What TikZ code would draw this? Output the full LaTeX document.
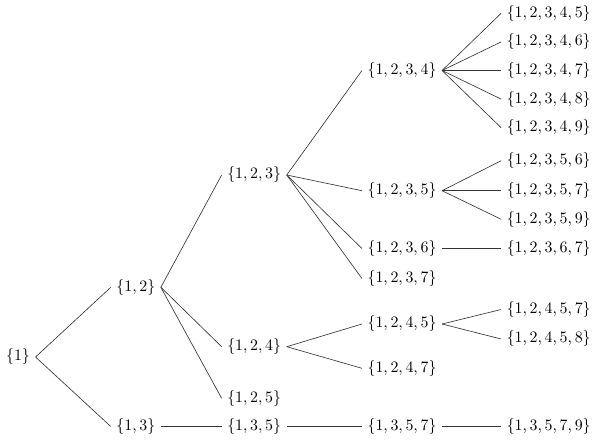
\documentclass[tikz,border=0pt]{standalone}
\begin{document}
\begin{tikzpicture}[x=0.629pt,y=-0.629pt,
  set/.style={inner sep=3.33pt},
  br/.style={draw=black!80, line width=0.4pt}]
\useasboundingbox (0,0) rectangle (599,441);
% column x
\def\ca{18}\def\cb{135.8}\def\cc{254.2}\def\cd{402}\def\ce{548.7}
\node[set] (n1) at (\ca,357) {$\{1\}$};
\node[set] (n12) at (\cb,287.3) {$\{1,2\}$};
\node[set] (n13) at (\cb,426.5) {$\{1,3\}$};
\node[set] (n123) at (\cc,175) {$\{1,2,3\}$};
\node[set] (n124) at (\cc,346.7) {$\{1,2,4\}$};
\node[set] (n125) at (\cc,398.3) {$\{1,2,5\}$};
\node[set] (n135) at (\cc,426.5) {$\{1,3,5\}$};
\node[set] (n1234) at (\cd,70.5) {$\{1,2,3,4\}$};
\node[set] (n1235) at (\cd,190.7) {$\{1,2,3,5\}$};
\node[set] (n1236) at (\cd,248.5) {$\{1,2,3,6\}$};
\node[set] (n1237) at (\cd,278.5) {$\{1,2,3,7\}$};
\node[set] (n1245) at (\cd,324) {$\{1,2,4,5\}$};
\node[set] (n1247) at (\cd,368.3) {$\{1,2,4,7\}$};
\node[set] (n1357) at (\cd,426.5) {$\{1,3,5,7\}$};
\node[set] (n12345) at (\ce,13.3) {$\{1,2,3,4,5\}$};
\node[set] (n12346) at (\ce,41.9) {$\{1,2,3,4,6\}$};
\node[set] (n12347) at (\ce,70.5) {$\{1,2,3,4,7\}$};
\node[set] (n12348) at (\ce,99.1) {$\{1,2,3,4,8\}$};
\node[set] (n12349) at (\ce,127.7) {$\{1,2,3,4,9\}$};
\node[set] (n12356) at (\ce,160.7) {$\{1,2,3,5,6\}$};
\node[set] (n12357) at (\ce,190.7) {$\{1,2,3,5,7\}$};
\node[set] (n12359) at (\ce,219.3) {$\{1,2,3,5,9\}$};
\node[set] (n12367) at (\ce,248.5) {$\{1,2,3,6,7\}$};
\node[set] (n12457) at (\ce,309.5) {$\{1,2,4,5,7\}$};
\node[set] (n12458) at (\ce,339) {$\{1,2,4,5,8\}$};
\node[set] (n13579) at (\ce,426.5) {$\{1,3,5,7,9\}$};
\foreach \p/\c in {n1/n12,n1/n13,
  n12/n123,n12/n124,n12/n125,n13/n135,
  n123/n1234,n123/n1235,n123/n1236,n123/n1237,
  n124/n1245,n124/n1247,n135/n1357,
  n1234/n12345,n1234/n12346,n1234/n12347,n1234/n12348,n1234/n12349,
  n1235/n12356,n1235/n12357,n1235/n12359,n1236/n12367,
  n1245/n12457,n1245/n12458,n1357/n13579}
  \draw[br] (\p.east) -- (\c.west);
\end{tikzpicture}
\end{document}
